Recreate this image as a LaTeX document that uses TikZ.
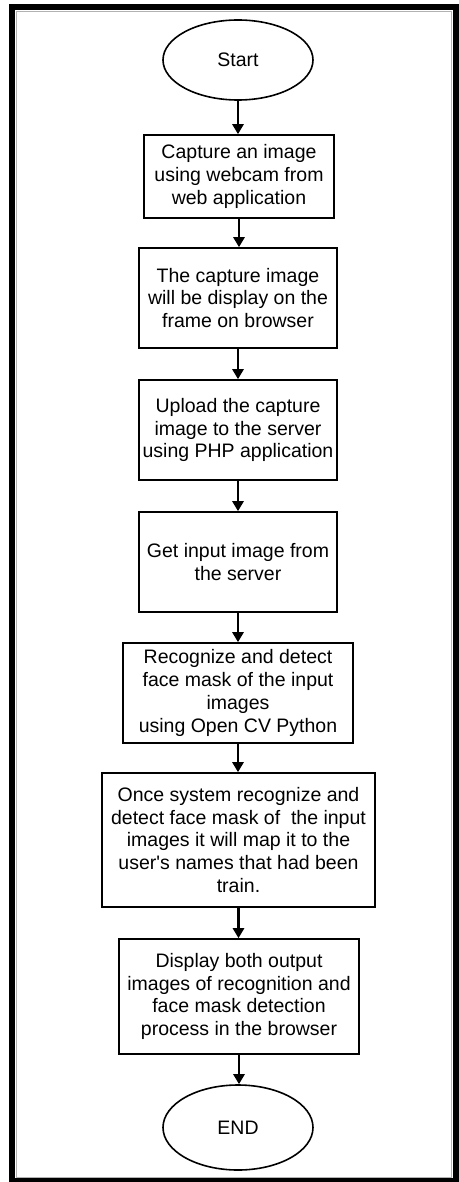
\documentclass[tikz,border=0pt]{standalone}
\usepackage{fontspec}
\setmainfont{Liberation Sans}
\usetikzlibrary{shapes.geometric,arrows.meta}
\tikzset{
  flowbox/.style={draw=black, line width=1.6pt, rectangle, inner sep=0pt, align=center,
    font=\fontsize{19.5}{22.8}\selectfont},
  term/.style={draw=black, line width=1.6pt, ellipse, inner sep=0pt, minimum width=150pt,
    font=\fontsize{19.5}{22.8}\selectfont},
  flowarrow/.style={line width=2.8pt, -{Triangle[width=11pt,length=10pt]}},
}
\begin{document}
\begin{tikzpicture}[x=1pt,y=-1pt]
\useasboundingbox (0,0) rectangle (458,1182);
\draw[line width=6pt, black] (11.5,7) rectangle (455.5,1180.5);
\draw[line width=0.6pt, black!30] (16,11) rectangle (451,1177);

\node[term, minimum height=80pt] (start) at (238,60) {Start};
\node[flowbox, minimum width=190pt, minimum height=83pt] (b1) at (239,176.5)
  {Capture an image\\using webcam from\\web application};
\node[flowbox, minimum width=198pt, minimum height=100pt] (b2) at (238,298)
  {The capture image\\will be display on the\\frame on browser};
\node[flowbox, minimum width=198pt, minimum height=100pt] (b3) at (238,430)
  {Upload the capture\\image to the server\\using PHP application};
\node[flowbox, minimum width=198pt, minimum height=100pt] (b4) at (238,562)
  {Get input image from\\the server};
\node[flowbox, minimum width=230pt, minimum height=100pt] (b5) at (238,693)
  {Recognize and detect\\face mask of the input\\images\\using Open CV Python};
\node[flowbox, minimum width=273pt, minimum height=134pt] (b6) at (238.5,840)
  {Once system recognize and\\detect face mask of\ \ the input\\images it will map it to the\\user\textquotesingle s names that had been\\train.};
\node[flowbox, minimum width=240pt, minimum height=115pt] (b7) at (239,996.5)
  {Display both output\\images of recognition and\\face mask detection\\process in the browser};
\node[term, minimum height=85pt] (end) at (238,1127.5) {END};

\draw[flowarrow] (start.south) -- (start.south |- b1.north);
\draw[flowarrow] (b1.south) -- (b1.south |- b2.north);
\draw[flowarrow] (b2.south) -- (b2.south |- b3.north);
\draw[flowarrow] (b3.south) -- (b3.south |- b4.north);
\draw[flowarrow] (b4.south) -- (b4.south |- b5.north);
\draw[flowarrow] (b5.south) -- (b5.south |- b6.north);
\draw[flowarrow] (b6.south) -- (b6.south |- b7.north);
\draw[flowarrow] (b7.south) -- (b7.south |- end.north);
\end{tikzpicture}
\end{document}
